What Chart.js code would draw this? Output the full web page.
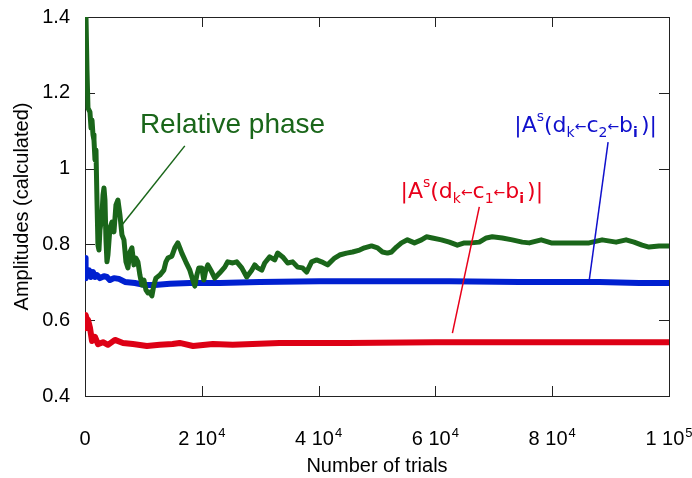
<!DOCTYPE html>
<html lang="en">
<head>
    <meta charset="utf-8">
    <script src="https://cdn.jsdelivr.net/npm/chart.js@4/dist/chart.umd.min.js"></script>
    <title>Amplitudes vs number of trials</title>
    <style>
    body { margin: 0; background: #fff; }
    </style>
</head>
<body>
    <canvas id="myChart" width="692" height="478"></canvas>

    <script>
        // relative phase (green)
        var phaseTrials = [
            0,170,340,510,850,1030,1200,1370,1540,1710,
            1880,2050,2220,2390,2560,2910,3080,3250,3420,3590,
            3760,3930,4270,4620,4960,5300,5640,5980,6330,6670,
            7010,7350,7690,8030,8380,8720,9060,9400,9740,10090,
            10430,10770,11110,11450,11800,12140,12820,13500,13850,14190,
            14870,15380,15900,16240,16580,17260,17950,18460,18800,19150,
            19490,20000,20340,20680,21030,21710,22220,23080,23930,24440,
            25300,25980,26840,27690,28550,29060,29570,30260,30770,31620,
            32480,32990,33850,34700,35560,36410,37260,37950,38800,39660,
            40510,41540,42740,43590,44790,45810,47010,47860,49060,50090,
            50940,51790,52480,53330,54190,55210,56410,57610,58460,59490,
            61030,62390,63760,64960,66150,67520,68720,69740,71450,73160,
            74870,76070,78120,79830,81710,84100,86320,88550,90940,92650,
            94020,95380,96580,98290,100000
        ];
        var phaseValues = [
            1.339,1.400,1.260,1.160,1.149,1.107,1.128,1.089,1.075,1.023,
            1.049,0.917,0.798,0.785,0.838,0.878,0.930,0.949,0.917,0.812,
            0.754,0.772,0.843,0.859,0.833,0.904,0.917,0.878,0.825,0.812,
            0.754,0.738,0.780,0.791,0.746,0.764,0.754,0.719,0.693,0.706,
            0.680,0.672,0.674,0.664,0.693,0.711,0.719,0.732,0.754,0.764,
            0.769,0.791,0.804,0.791,0.777,0.754,0.732,0.706,0.690,0.719,
            0.738,0.738,0.706,0.732,0.746,0.727,0.711,0.725,0.740,0.754,
            0.751,0.754,0.738,0.714,0.732,0.746,0.738,0.732,0.751,0.767,
            0.759,0.777,0.767,0.751,0.754,0.740,0.738,0.727,0.754,0.759,
            0.754,0.746,0.764,0.772,0.777,0.780,0.785,0.791,0.796,0.791,
            0.780,0.777,0.780,0.793,0.804,0.812,0.804,0.812,0.820,0.817,
            0.812,0.806,0.798,0.804,0.804,0.806,0.817,0.820,0.817,0.812,
            0.806,0.804,0.812,0.804,0.804,0.804,0.804,0.812,0.806,0.812,
            0.806,0.798,0.793,0.796,0.796
        ];

        // |A^s(dk <- c2 <- bi)| (blue)
        var c2Trials = [0,100,340,680,1030,1370,1710,2050,2560,3250,
            3760,4270,4960,5810,6840,8550,10260,11970,14530,17950,
            23080,29910,40170,50430,62390,74360,88030,94870,100000];
        var c2Values = [0.764,0.711,0.732,0.732,0.714,0.727,0.714,0.719,0.711,0.716,
            0.714,0.706,0.711,0.709,0.701,0.698,0.693,0.693,0.696,0.698,
            0.698,0.701,0.703,0.703,0.703,0.701,0.701,0.698,0.698];

        // |A^s(dk <- c1 <- bi)| (red)
        var c1Trials = [0,100,340,510,850,1200,1710,2220,3080,3930,
            5130,6500,8200,10600,12800,15000,16200,18500,21900,25300,
            28700,33300,45000,60000,75000,90000,100000];
        var c1Values = [0.579,0.614,0.601,0.601,0.580,0.545,0.556,0.537,0.542,0.535,
            0.548,0.540,0.537,0.532,0.535,0.537,0.540,0.532,0.537,0.535,
            0.537,0.540,0.540,0.542,0.542,0.542,0.542];

        var yTicks = [0.4, 0.6, 0.8, 1, 1.2, 1.4];
        var xTicks = [0, 20000, 40000, 60000, 80000, 100000];
        var xTickBase = ["0", "2 10", "4 10", "6 10", "8 10", "1 10"];
        var xTickExp = ["", "4", "4", "4", "4", "5"];

        var green = "#1a661a", blue = "#0020d0", red = "#dd0015";

        // formula label pieces: main text, sup/sub and arrows
        var formula = function (n) {
            return [{ t: "|A", s: 22 }, { t: "s", s: 14, dy: -11 }, { t: "(d", s: 22 }, { t: "k", s: 14, dy: 5 },
                    { t: "\u2190", s: 14, dy: -1 }, { t: "c", s: 22 }, { t: n, s: 14, dy: 5 },
                    { t: "\u2190", s: 14, dy: -1 }, { t: "b", s: 22 }, { t: "i", s: 14, dy: 5, b: true, gap: 3 },
                    { t: ")|", s: 22 }];
        };

        // labels with leader lines, anchored in data units
        var notes = [
            { color: green, font: '"Liberation Sans", Arial, sans-serif', at: [9400, 1.094],
              parts: [{ t: "Relative phase", s: 28 }],
              line: [[17090, 1.060], [6320, 0.851]] },
            { color: "#1010cc", font: '"DejaVu Sans", sans-serif', at: [73500, 1.097],
              parts: formula("2"),
              line: [[89570, 1.070], [86320, 0.703]] },
            { color: "#e8001a", font: '"DejaVu Sans", sans-serif', at: [54020, 0.922],
              parts: formula("1"),
              line: [[67520, 0.899], [62910, 0.566]] }
        ];

        var pts = function (xs, ys) {
            return xs.map(function (x, i) { return { x: x, y: ys[i] }; });
        };

        var frame = {
            id: "frame",
            beforeDatasetsDraw: function (chart) {
                var a = chart.chartArea, sx = chart.scales.x, sy = chart.scales.y, c = chart.ctx;
                c.save();
                c.strokeStyle = "#222";
                c.lineWidth = 1;
                c.strokeRect(Math.round(a.left) + 0.5, Math.round(a.top) + 0.5,
                    Math.round(a.right - a.left), Math.round(a.bottom - a.top));
                c.beginPath();
                yTicks.forEach(function (v) {
                    var p = Math.round(sy.getPixelForValue(v)) + 0.5;
                    c.moveTo(a.left, p); c.lineTo(a.left + 10, p);
                    c.moveTo(a.right, p); c.lineTo(a.right - 10, p);
                });
                xTicks.forEach(function (v) {
                    var p = Math.round(sx.getPixelForValue(v)) + 0.5;
                    c.moveTo(p, a.bottom); c.lineTo(p, a.bottom - 10);
                    c.moveTo(p, a.top); c.lineTo(p, a.top + 10);
                });
                c.stroke();
                c.restore();
            },
            afterDraw: function (chart) {
                var a = chart.chartArea, sx = chart.scales.x, sy = chart.scales.y, c = chart.ctx;
                c.save();
                // x tick labels with exponents
                c.fillStyle = "#000";
                c.textBaseline = "alphabetic";
                xTicks.forEach(function (v, i) {
                    var baseFont = '20px "Liberation Sans", Arial, sans-serif';
                    var expFont = '13px "Liberation Sans", Arial, sans-serif';
                    c.font = baseFont;
                    var w1 = c.measureText(xTickBase[i]).width;
                    c.font = expFont;
                    var w2 = xTickExp[i] ? c.measureText(xTickExp[i]).width + 1 : 0;
                    var x0 = sx.getPixelForValue(v) - (w1 + w2) / 2;
                    var y0 = a.bottom + 49;
                    c.font = baseFont;
                    c.fillText(xTickBase[i], x0, y0);
                    if (xTickExp[i]) {
                        c.font = expFont;
                        c.fillText(xTickExp[i], x0 + w1 + 1, y0 - 8);
                    }
                });
                // annotations
                notes.forEach(function (n) {
                    c.strokeStyle = n.color;
                    c.lineWidth = 1.5;
                    c.beginPath();
                    c.moveTo(sx.getPixelForValue(n.line[0][0]), sy.getPixelForValue(n.line[0][1]));
                    c.lineTo(sx.getPixelForValue(n.line[1][0]), sy.getPixelForValue(n.line[1][1]));
                    c.stroke();
                    var x = sx.getPixelForValue(n.at[0]), y = sy.getPixelForValue(n.at[1]);
                    c.fillStyle = n.color;
                    n.parts.forEach(function (p) {
                        c.font = (p.b ? "bold " : "") + p.s + "px " + n.font;
                        c.fillText(p.t, x, y + (p.dy || 0));
                        x += c.measureText(p.t).width + (p.gap || 0);
                    });
                });
                c.restore();
            }
        };

        Chart.defaults.font.family = '"Liberation Sans", Arial, sans-serif';

        var ctx = document.getElementById("myChart").getContext("2d");
        var myChart = new Chart(ctx, {
            type: "line",
            data: {
                datasets: [
                    { label: "Relative phase", data: pts(phaseTrials, phaseValues), borderColor: green, borderWidth: 5 },
                    { label: "|As(dk<-c2<-bi)|", data: pts(c2Trials, c2Values), borderColor: blue, borderWidth: 6 },
                    { label: "|As(dk<-c1<-bi)|", data: pts(c1Trials, c1Values), borderColor: red, borderWidth: 6 }
                ]
            },
            options: {
                responsive: false,
                animation: false,
                devicePixelRatio: 1,
                elements: {
                    point: { radius: 0 },
                    line: { tension: 0, fill: false, borderJoinStyle: "round", borderCapStyle: "round" }
                },
                layout: { padding: { top: 17, right: 23, left: 0, bottom: 0 } },
                plugins: { legend: { display: false }, tooltip: { enabled: false } },
                scales: {
                    x: {
                        type: "linear", min: 0, max: 100000,
                        grid: { display: false }, border: { display: false },
                        ticks: { display: false },
                        afterFit: function (s) { s.height = 82; },
                        title: { display: true, text: "Number of trials", color: "#000",
                                 font: { size: 20 }, padding: { top: 0, bottom: 0 } }
                    },
                    y: {
                        min: 0.4, max: 1.4,
                        // invisible outer ticks just to push the labels off the frame
                        grid: { display: true, drawOnChartArea: false, drawTicks: true, tickLength: 12, color: "rgba(0,0,0,0)" },
                        border: { display: false },
                        afterBuildTicks: function (s) { s.ticks = yTicks.map(function (v) { return { value: v }; }); },
                        ticks: { color: "#000", font: { size: 20 }, padding: 3,
                                 callback: function (v) { return String(v); } },
                        afterFit: function (s) { s.width = 85; },
                        title: { display: true, text: "Amplitudes (calculated)", color: "#000",
                                 font: { size: 20 }, padding: { top: 10, bottom: 0 } }
                    }
                }
            },
            plugins: [frame]
        });
    </script>
</body>
</html>
